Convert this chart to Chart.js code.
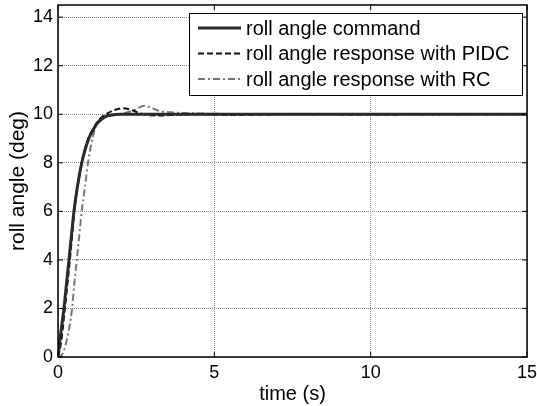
<!DOCTYPE html>
<html>
<head>
<meta charset="utf-8">
<script src="https://cdn.jsdelivr.net/npm/chart.js@4/dist/chart.umd.min.js"></script>
<style>
  html, body { margin: 0; padding: 0; background: #fff; }
  #wrap { width: 537px; height: 406px; }
</style>
</head>
<body>
<div id="wrap"><canvas id="rollChart"></canvas></div>
<script>
// roll angle command (filtered step to 10 deg)
const cmdTime = [0, 0.05, 0.1, 0.19, 0.27, 0.35, 0.43, 0.51, 0.63, 0.76, 0.88, 1.0, 1.12, 1.24, 1.4, 1.55, 1.7, 2.0, 3, 5, 8, 11, 15];
const cmdAngle = [0, 0.6, 1.1, 2, 3, 4, 5, 6, 7.1, 8, 8.6, 9.05, 9.35, 9.6, 9.8, 9.92, 9.97, 10, 10, 10, 10, 10, 10];

// response with PIDC
const pidcTime = [0, 0.06, 0.12, 0.22, 0.3, 0.38, 0.45, 0.52, 0.64, 0.76, 0.88, 1.0, 1.12, 1.24, 1.4, 1.6, 1.8, 2.07, 2.3, 2.6, 2.9, 3.3, 3.8, 4.5, 5.5, 6.5, 8, 10, 12, 15];
const pidcAngle = [0, 0.3, 0.8, 2, 3, 4, 5, 6, 7.1, 8, 8.65, 9.1, 9.4, 9.65, 9.88, 10.05, 10.17, 10.25, 10.2, 10.05, 9.96, 9.95, 9.98, 10.0, 9.97, 9.99, 10.0, 9.99, 10.0, 10.0];

// response with RC
const rcTime = [0, 0.1, 0.2, 0.3, 0.38, 0.45, 0.52, 0.6, 0.68, 0.76, 0.86, 0.96, 1.1, 1.24, 1.4, 1.7, 2.0, 2.4, 2.77, 3.0, 3.3, 3.6, 4.0, 5.0, 6.5, 8, 10, 12, 15];
const rcAngle = [0, 0.05, 0.3, 0.8, 1.35, 2, 3, 4, 5, 6, 7, 8, 9.0, 9.6, 9.85, 9.95, 10.0, 10.15, 10.35, 10.25, 10.12, 10.08, 10.05, 10.02, 10.0, 10.01, 10.0, 10.0, 10.0];

const xTicks = [0, 5, 10, 15];
const yTicks = [0, 2, 4, 6, 8, 10, 12, 14];

const FONT = "'Liberation Sans', Arial, sans-serif";

function toPoints(t, v) {
  return t.map((x, i) => ({ x: x, y: v[i] }));
}

// box around plot + small inward tick marks, matlab style
const frame = {
  id: "frame",
  afterDatasetsDraw(chart) {
    const { ctx, chartArea: a, scales } = chart;
    ctx.save();
    ctx.strokeStyle = "#000";
    ctx.lineWidth = 1.5;
    ctx.strokeRect(a.left, a.top, a.right - a.left, a.bottom - a.top);
    ctx.lineWidth = 1;
    ctx.beginPath();
    xTicks.forEach((t) => {
      const px = scales.x.getPixelForValue(t);
      ctx.moveTo(px, a.bottom); ctx.lineTo(px, a.bottom - 5);
      ctx.moveTo(px, a.top); ctx.lineTo(px, a.top + 5);
    });
    yTicks.forEach((t) => {
      const py = scales.y.getPixelForValue(t);
      ctx.moveTo(a.left, py); ctx.lineTo(a.left + 5, py);
      ctx.moveTo(a.right, py); ctx.lineTo(a.right - 5, py);
    });
    ctx.stroke();
    ctx.restore();
  },
};

// legend box in upper right corner of the axes
const boxLegend = {
  id: "boxLegend",
  afterDraw(chart) {
    const { ctx } = chart;
    const left = 189, top = 13, right = 522, bottom = 95;
    ctx.save();
    ctx.fillStyle = "#fff";
    ctx.fillRect(left, top, right - left, bottom - top);
    ctx.strokeStyle = "#000";
    ctx.lineWidth = 1;
    ctx.strokeRect(left + 0.5, top + 0.5, right - left, bottom - top);
    ctx.font = "20px " + FONT;
    ctx.textBaseline = "middle";
    chart.data.datasets.forEach((ds, i) => {
      const y = 28 + i * 25.5;
      ctx.strokeStyle = ds.borderColor;
      ctx.lineWidth = ds.borderWidth;
      ctx.setLineDash(ds.borderDash || []);
      ctx.beginPath();
      ctx.moveTo(198, y);
      ctx.lineTo(241, y);
      ctx.stroke();
      ctx.setLineDash([]);
      ctx.fillStyle = "#000";
      ctx.fillText(ds.label, 246, y + 1);
    });
    ctx.restore();
  },
};

new Chart("rollChart", {
  type: "line",
  data: {
    datasets: [
      {
        label: "roll angle command",
        data: toPoints(cmdTime, cmdAngle),
        borderColor: "#2a2a2a",
        borderWidth: 3,
        pointRadius: 0,
        cubicInterpolationMode: "monotone",
      },
      {
        label: "roll angle response with PIDC",
        data: toPoints(pidcTime, pidcAngle),
        borderColor: "#111",
        borderWidth: 2,
        borderDash: [6, 3],
        pointRadius: 0,
        cubicInterpolationMode: "monotone",
      },
      {
        label: "roll angle response with RC",
        data: toPoints(rcTime, rcAngle),
        borderColor: "#777",
        borderWidth: 2,
        borderDash: [7, 3, 2, 3],
        pointRadius: 0,
        cubicInterpolationMode: "monotone",
      },
    ],
  },
  options: {
    responsive: true,
    maintainAspectRatio: false,
    animation: false,
    layout: { padding: { top: 5, right: 10, left: 0, bottom: 0 } },
    plugins: {
      legend: { display: false },
      tooltip: { enabled: false },
    },
    scales: {
      x: {
        type: "linear",
        min: 0,
        max: 15,
        afterBuildTicks: (s) => { s.ticks = xTicks.map((v) => ({ value: v })); },
        afterFit: (s) => {
          s.height = 49;
          s.paddingLeft = 0;
          s.paddingRight = 0;
        },
        grid: { color: "#8c8c8c", lineWidth: 1, drawTicks: false },
        border: { display: false, dash: [1, 1] },
        ticks: { color: "#000", padding: 5, font: { family: FONT, size: 18 } },
        title: {
          display: true,
          text: "time (s)",
          color: "#000",
          padding: { top: 0, bottom: 0 },
          font: { family: FONT, size: 20 },
        },
      },
      y: {
        min: 0,
        max: 14.5,
        afterBuildTicks: (s) => { s.ticks = yTicks.map((v) => ({ value: v })); },
        afterFit: (s) => {
          s.width = 58;
          s.paddingTop = 0;
          s.paddingBottom = 0;
        },
        grid: { color: "#8c8c8c", lineWidth: 1, drawTicks: false },
        border: { display: false, dash: [1, 1] },
        ticks: { color: "#000", padding: 5, font: { family: FONT, size: 18 } },
        title: {
          display: true,
          text: "roll angle (deg)",
          color: "#000",
          padding: { top: 6, bottom: 0 },
          font: { family: FONT, size: 21 },
        },
      },
    },
  },
  plugins: [frame, boxLegend],
});
</script>
</body>
</html>
